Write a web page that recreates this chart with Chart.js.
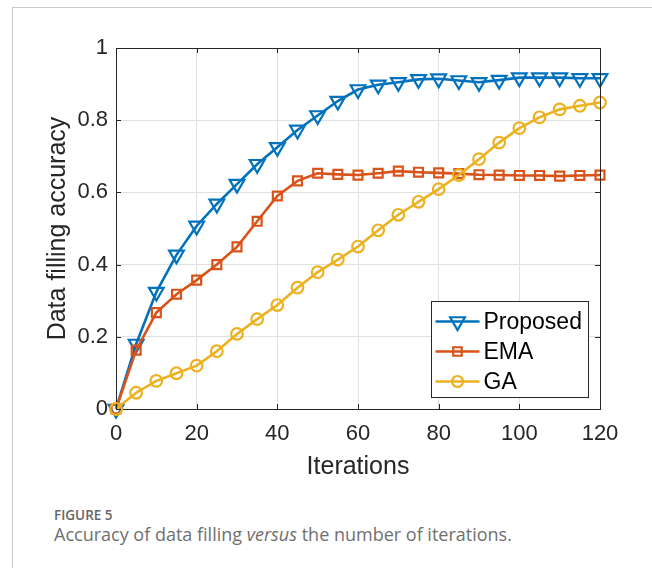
<!DOCTYPE html>
<html lang="en">
<head>
<meta charset="UTF-8">
<script src="https://cdn.jsdelivr.net/npm/chart.js"></script>
<title>Figure 5</title>
<style>
  html, body { margin: 0; padding: 0; background: #fff; overflow: hidden; }
  body { width: 652px; height: 568px; position: relative; }
  .card { position: absolute; left: 12px; top: 7px; width: 700px; height: 600px;
          border-left: 1px solid #cbcbcb; border-top: 1px solid #cbcbcb; }
  #wrap { position: absolute; left: 0; top: 0; width: 652px; height: 500px; }
  .fig { position: absolute; left: 54px; top: 506px; font: 600 13.5px "Open Sans", sans-serif; color: #666; }
  .cap { position: absolute; left: 54px; top: 522px; font: 400 18px "Open Sans", sans-serif; color: #707070; white-space: nowrap; }
</style>
</head>
<body>
<div class="card"></div>
<div id="wrap"><canvas id="accChart" width="652" height="500"></canvas></div>
<div class="fig">FIGURE 5</div>
<div class="cap">Accuracy of data filling <i>versus</i> the number of iterations.</div>
<script>
    // values
    const iterations = [0, 5, 10, 15, 20, 25, 30, 35, 40, 45, 50, 55, 60, 65, 70, 75, 80, 85, 90, 95, 100, 105, 110, 115, 120];
    const proposed = [0, 0.18, 0.324, 0.427, 0.507, 0.568, 0.623, 0.678, 0.725, 0.773, 0.813, 0.853, 0.885, 0.898, 0.905, 0.913, 0.915, 0.91, 0.905, 0.911, 0.918, 0.918, 0.918, 0.916, 0.916];
    const ema = [0, 0.163, 0.267, 0.318, 0.357, 0.40, 0.449, 0.52, 0.59, 0.632, 0.653, 0.65, 0.648, 0.653, 0.659, 0.656, 0.654, 0.652, 0.649, 0.648, 0.647, 0.647, 0.645, 0.647, 0.648];
    const ga = [0, 0.045, 0.078, 0.099, 0.12, 0.16, 0.208, 0.249, 0.288, 0.336, 0.379, 0.414, 0.45, 0.495, 0.538, 0.574, 0.609, 0.648, 0.692, 0.738, 0.778, 0.808, 0.83, 0.84, 0.849];
    const seriesNames = ['Proposed', 'EMA', 'GA'];
    const xTicks = [0, 20, 40, 60, 80, 100, 120];
    const yTicks = [0, 0.2, 0.4, 0.6, 0.8, 1];
    const yTickLabels = ['0', '0.2', '0.4', '0.6', '0.8', '1'];

    const axisColor = '#262626';
    const fontFamily = '"Liberation Sans", Arial, Helvetica, sans-serif';

    function pts(ys) {
        return ys.map((y, i) => ({ x: iterations[i], y: y }));
    }

    // hollow marker for the legend
    function marker(ctx, style, x, y) {
        ctx.beginPath();
        if (style === 'triangle') {
            const r = 8.5;
            ctx.moveTo(x - r * 0.866, y - r / 2);
            ctx.lineTo(x + r * 0.866, y - r / 2);
            ctx.lineTo(x, y + r);
            ctx.closePath();
        } else if (style === 'rect') {
            const s = 6 * Math.SQRT1_2;
            ctx.rect(x - s, y - s, 2 * s, 2 * s);
        } else {
            ctx.arc(x, y, 5.5, 0, Math.PI * 2);
        }
        ctx.stroke();
    }

    // box on top/right, inward ticks and the legend
    const matlabFrame = {
        id: 'matlabFrame',
        afterDraw(chart) {
            const ctx = chart.ctx;
            const a = chart.chartArea;
            const xs = chart.scales.x, ys = chart.scales.y;
            ctx.save();
            ctx.strokeStyle = axisColor;
            ctx.lineWidth = 1;
            ctx.beginPath();
            ctx.moveTo(a.left, a.top + 0.5);
            ctx.lineTo(a.right + 0.5, a.top + 0.5);
            ctx.lineTo(a.right + 0.5, a.bottom);
            const tl = 5;
            xTicks.forEach(v => {
                const px = Math.round(xs.getPixelForValue(v)) + 0.5;
                ctx.moveTo(px, a.bottom); ctx.lineTo(px, a.bottom - tl);
                ctx.moveTo(px, a.top); ctx.lineTo(px, a.top + tl);
            });
            yTicks.forEach(v => {
                const py = Math.round(ys.getPixelForValue(v)) + 0.5;
                ctx.moveTo(a.left, py); ctx.lineTo(a.left + tl, py);
                ctx.moveTo(a.right, py); ctx.lineTo(a.right - tl, py);
            });
            ctx.stroke();

            // legend
            const bw = 157, bh = 96;
            const bx = Math.round(a.right - 169) + 0.5, by = Math.round(a.bottom - 108) + 0.5;
            ctx.fillStyle = '#fff';
            ctx.fillRect(bx, by, bw, bh);
            ctx.strokeStyle = axisColor;
            ctx.strokeRect(bx, by, bw, bh);
            ctx.font = '23px ' + fontFamily;
            ctx.textBaseline = 'middle';
            ctx.textAlign = 'left';
            chart.data.datasets.forEach((ds, i) => {
                const cy = by + 20 + i * 30;
                ctx.strokeStyle = ds.borderColor;
                ctx.lineWidth = 2.6;
                ctx.beginPath();
                ctx.moveTo(bx + 4, cy); ctx.lineTo(bx + 48, cy);
                ctx.stroke();
                ctx.lineWidth = 2.2;
                marker(ctx, ds.pointStyle, bx + 26, cy);
                ctx.fillStyle = '#000';
                ctx.fillText(ds.label, bx + 52, cy + 1);
            });
            ctx.restore();
        }
    };

    const ctx = document.getElementById('accChart').getContext('2d');
    const accChart = new Chart(ctx, {
        type: 'line',
        data: {
            datasets: [{
                label: seriesNames[0],
                data: pts(proposed),
                borderColor: '#0072BD',
                pointStyle: 'triangle',
                rotation: 180,
                pointRadius: 8.5,
                order: 2
            }, {
                label: seriesNames[1],
                data: pts(ema),
                borderColor: '#D95319',
                pointStyle: 'rect',
                pointRadius: 6.3,
                order: 1
            }, {
                label: seriesNames[2],
                data: pts(ga),
                borderColor: '#EDB120',
                pointStyle: 'circle',
                pointRadius: 5.8,
                order: 0
            }]
        },
        options: {
            responsive: false,
            animation: false,
            datasets: {
                line: {
                    borderWidth: 2.6,
                    tension: 0,
                    pointBorderWidth: 2.2,
                    pointBackgroundColor: 'rgba(0,0,0,0)',
                    clip: false
                }
            },
            layout: { padding: { left: 43, top: 48, right: 52, bottom: 18 } },
            plugins: { legend: { display: false }, tooltip: { enabled: false } },
            scales: {
                x: {
                    type: 'linear',
                    min: 0, max: 120,
                    afterBuildTicks: s => { s.ticks = xTicks.map(v => ({ value: v })); },
                    afterFit: s => { s.height = 73; },
                    ticks: { padding: 12, color: axisColor, font: { family: fontFamily, size: 22 } },
                    grid: { color: '#e0e0e0', drawTicks: false },
                    border: { color: axisColor, width: 1 },
                    title: { display: true, text: 'Iterations', color: axisColor, padding: 0,
                             font: { family: fontFamily, size: 25 } }
                },
                y: {
                    min: 0, max: 1,
                    afterBuildTicks: s => { s.ticks = yTicks.map(v => ({ value: v })); },
                    afterFit: s => { s.width = 73; },
                    ticks: { padding: 8, color: axisColor, font: { family: fontFamily, size: 22 },
                             callback: (v, i) => yTickLabels[i] },
                    grid: { color: '#e0e0e0', drawTicks: false },
                    border: { color: axisColor, width: 1 },
                    title: { display: true, text: 'Data filling accuracy', color: axisColor, padding: 0,
                             font: { family: fontFamily, size: 25 } }
                }
            }
        },
        plugins: [matlabFrame]
    });
</script>
</body>
</html>
